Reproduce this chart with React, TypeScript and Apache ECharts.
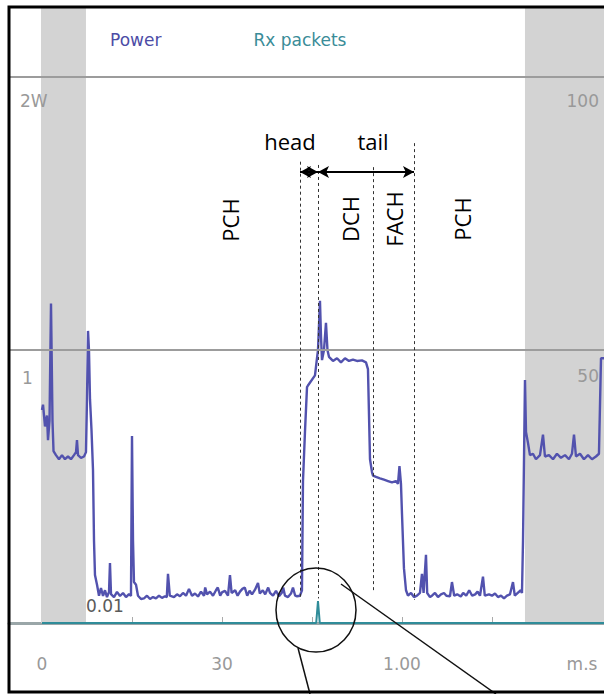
import React, { useEffect, useRef } from "react";
import * as echarts from "echarts";

// ---- axis / tick data ----
const timeTickValues = [15, 30, 45, 60, 75, 90];
const timeLabelValues = [0, 30, 60, 90];
const timeLabelTexts = ["0", "30", "1.00", "m.s"];
const timeMin = -5.5;
const timeMax = 93.67;
const powerMax = 2.253;
const rxMax = 112.6;
const powerGridValues = [1, 2];

// ---- series: Power (seconds, watts) ----
const powerTime = [
  0, 0.17, 0.5, 0.83, 1.0, 1.25, 1.5, 1.75, 1.92, 2.33, 2.83, 3.33, 3.83, 4.33, 4.83, 5.33, 5.67, 5.83, 6.0, 6.5, 7.0, 7.33,
  7.5, 7.67, 7.83, 8.0, 8.25, 8.5, 8.67, 8.83, 9.17, 9.5, 9.83, 10.17, 10.5, 10.83, 11.17, 11.33, 11.5, 12.0, 12.5, 13.0,
  13.5, 14.0, 14.5, 14.83, 15.0, 15.17, 15.33, 15.67, 16.0, 16.5,
  17.0, 17.5, 18.0, 18.5, 19.0, 19.5, 20.0, 20.5, 20.8, 21.0, 21.3, 22.0, 22.5, 23.0, 23.5, 24.0, 24.5, 25.0, 25.5, 26.0,
  26.5, 27.0, 27.2, 27.5, 28.0, 28.5, 29.0, 29.3, 29.7, 30.0, 30.5, 31.0, 31.33, 31.6, 32.2, 32.6, 33.0, 33.4, 33.8, 34.2,
  34.6, 35.0, 35.5, 36.0, 36.3, 36.8, 37.2, 37.7, 38.0, 38.5, 39.0, 39.5, 40.0, 40.2, 40.5, 41.0, 41.5, 41.83, 42.2, 42.5, 43.0,
  43.33, 43.5, 43.83, 44.17, 44.33, 45.5, 45.78, 46.0, 46.33, 46.5, 46.67, 47.0, 47.33, 47.58, 47.83, 48.5, 49.17, 49.83,
  50.5, 51.17, 51.83, 52.5, 53.33, 54.0, 54.33, 54.67, 55.0, 55.17, 55.67, 56.33, 57.0, 57.67, 58.33, 59.0, 59.33, 59.58,
  59.83, 60.0, 60.33, 60.67, 61.0, 61.5, 62.0, 62.5, 63.0, 63.33, 63.6, 64.0, 64.2, 64.67,
  65.0, 65.5, 66.0, 66.5, 67.0, 67.4, 68.0, 68.33, 68.7, 69.2, 69.8, 70.2, 70.7, 71.2, 71.7, 72.2, 72.6, 73.0, 73.5, 73.8,
  74.5, 75.0, 75.5, 76.0, 76.5, 77.0, 77.5, 78.0, 78.5, 78.8, 79.3, 79.8, 80.0, 80.17,
  80.5, 80.67, 81.0, 81.33, 81.83, 82.33, 83.0, 83.5, 83.83, 84.5, 85.17, 85.83, 86.5, 87.17, 87.83, 88.33, 88.67, 89.0,
  89.67, 90.33, 91.0, 91.67, 92.33, 92.83, 93.17, 93.67,
];
const powerWatts = [
  0.78, 0.8, 0.72, 0.76, 0.67, 0.74, 1.17, 0.74, 0.63, 0.615, 0.6, 0.615, 0.6, 0.61, 0.6, 0.615, 0.626, 0.67, 0.615, 0.605, 0.61, 0.626,
  0.82, 1.07, 1.0, 0.82, 0.707, 0.56, 0.3, 0.176, 0.14, 0.1, 0.128, 0.099, 0.12, 0.095, 0.114, 0.22, 0.106, 0.095, 0.114, 0.099,
  0.11, 0.095, 0.106, 0.099, 0.685, 0.3, 0.15, 0.14, 0.1, 0.088,
  0.09, 0.1, 0.088, 0.095, 0.09, 0.1, 0.092, 0.098, 0.095, 0.18, 0.1, 0.095, 0.105, 0.098, 0.11, 0.1, 0.125, 0.1, 0.108, 0.097,
  0.115, 0.1, 0.13, 0.105, 0.115, 0.1, 0.12, 0.13, 0.1, 0.112, 0.118, 0.1, 0.175, 0.11, 0.12, 0.1, 0.115, 0.125, 0.13, 0.1,
  0.118, 0.105, 0.122, 0.147, 0.108, 0.12, 0.105, 0.13, 0.11, 0.1, 0.118, 0.098, 0.112, 0.13, 0.1, 0.095, 0.108, 0.13, 0.1, 0.098, 0.1,
  0.12, 0.52, 0.7, 0.864, 0.87, 0.907, 0.96, 1.0, 1.18, 1.05, 0.963, 1.0, 1.1, 1.0, 0.975, 0.96, 0.97, 0.955,
  0.97, 0.96, 0.965, 0.96, 0.962, 0.955, 0.93, 0.6, 0.553, 0.54, 0.535, 0.53, 0.525, 0.52, 0.515, 0.52, 0.51, 0.575,
  0.51, 0.4, 0.2, 0.12, 0.1, 0.11, 0.095, 0.1, 0.11, 0.18, 0.11, 0.25, 0.11, 0.095,
  0.1, 0.11, 0.095, 0.105, 0.11, 0.1, 0.098, 0.15, 0.1, 0.105, 0.097, 0.11, 0.1, 0.12, 0.1, 0.105, 0.115, 0.1, 0.17, 0.1,
  0.105, 0.1, 0.108, 0.095, 0.1, 0.09, 0.1, 0.105, 0.15, 0.1, 0.11, 0.12, 0.11, 0.3,
  0.89, 0.7, 0.66, 0.615, 0.62, 0.6, 0.615, 0.69, 0.61, 0.615, 0.6, 0.62, 0.605, 0.615, 0.6, 0.62, 0.69, 0.61,
  0.62, 0.6, 0.615, 0.6, 0.61, 0.62, 0.97, 0.97,
];

// ---- series: Rx packets ----
const rxTime = [0, 45.7, 45.85, 46.0, 46.15, 46.3, 93.67];
const rxPackets = [0, 0, 2, 4, 2, 0, 0];

// ---- annotations ----
const shadedRanges = [
  [-0.17, 7.33],
  [80.5, 93.67],
];
const phaseLines = [
  { t: 43.0, top: 1.69, bottom: 0.085 },
  { t: 46.0, top: 1.678, bottom: 0.09 },
  { t: 55.17, top: 1.67, bottom: 0.11 },
  { t: 62.0, top: 1.758, bottom: 0.085 },
];
const arrowLevel = 1.652;
const headRange = [43.0, 46.0];
const tailRange = [46.0, 62.0];

const POWER_COLOR = "#5252ae";
const RX_COLOR = "#2f8c99";
const LABEL_FONT = "DejaVu Sans";
const NOTE_FONT = "Open Sans";

export default function App() {
  const ref = useRef<HTMLDivElement>(null);

  useEffect(() => {
    if (!ref.current) return;
    const chart = echarts.init(ref.current, undefined, { renderer: "svg" });

    const powerData = powerTime.map((t, i) => [t, powerWatts[i]]);
    const rxData = rxTime.map((t, i) => [t, rxPackets[i]]);

    const gridLineStyle = { color: "#9c9c9c", width: 2, type: "solid" };
    const markLineData: any[] = [
      ...powerGridValues.map((v) => ({ yAxis: v, lineStyle: gridLineStyle })),
      ...phaseLines.map((p) => [
        { coord: [p.t, p.top], lineStyle: { color: "#333", width: 1, type: [3, 3] } },
        { coord: [p.t, p.bottom] },
      ]),
      [
        { coord: [headRange[0], arrowLevel], symbol: "arrow", symbolSize: [9, 11], lineStyle: { color: "#000", width: 2, type: "solid" } },
        { coord: [headRange[1], arrowLevel], symbol: "arrow", symbolSize: [9, 11] },
      ],
      [
        { coord: [tailRange[0], arrowLevel], symbol: "arrow", symbolSize: [9, 11], lineStyle: { color: "#000", width: 2, type: "solid" } },
        { coord: [tailRange[1], arrowLevel], symbol: "arrow", symbolSize: [9, 11] },
      ],
    ];

    const text = (t: string, x: number, y: number, opts: any = {}) => ({
      type: "text",
      x,
      y,
      rotation: opts.rotation || 0,
      silent: true,
      z: 50,
      style: {
        text: t,
        fill: opts.fill || "#999",
        fontSize: opts.fontSize || 17,
        fontFamily: opts.fontFamily || LABEL_FONT,
        align: opts.align || "left",
        verticalAlign: "middle",
      },
    });

    chart.setOption({
      animation: false,
      backgroundColor: "#fff",
      textStyle: { fontFamily: LABEL_FONT },
      legend: {
        left: 100,
        top: 26,
        icon: "circle",
        itemWidth: 0,
        itemHeight: 0,
        itemGap: 87,
        selectedMode: false,
        data: [
          { name: "Power", textStyle: { color: "#4c4ca6", fontSize: 17, fontFamily: LABEL_FONT } },
          { name: "Rx packets", textStyle: { color: "#3a8c98", fontSize: 17, fontFamily: LABEL_FONT } },
        ],
      },
      grid: { left: 9, right: 0, top: 8, bottom: 71 },
      xAxis: {
        type: "value",
        min: timeMin,
        max: timeMax,
        axisLine: { show: true, lineStyle: { color: "#9aa6a8", width: 3 } },
        axisTick: {
          show: true,
          inside: true,
          length: 6,
          customValues: timeTickValues,
          lineStyle: { color: "#aaa", width: 1 },
        },
        axisLabel: {
          customValues: timeLabelValues,
          formatter: (v: number) => {
            const i = timeLabelValues.indexOf(Math.round(v));
            return i >= 0 ? timeLabelTexts[i] : "";
          },
          color: "#999",
          fontSize: 17,
          fontFamily: LABEL_FONT,
          margin: 32,
        },
        splitLine: { show: false },
      },
      yAxis: [
        {
          type: "value",
          min: 0,
          max: powerMax,
          show: true,
          axisLine: { show: false },
          axisTick: { show: false },
          axisLabel: { show: false },
          splitLine: { show: false },
        },
        {
          type: "value",
          min: 0,
          max: rxMax,
          show: true,
          position: "right",
          axisLine: { show: false },
          axisTick: { show: false },
          axisLabel: { show: false },
          splitLine: { show: false },
        },
      ],
      series: [
        {
          name: "Power",
          type: "line",
          data: powerData,
          showSymbol: false,
          symbol: "none",
          color: POWER_COLOR,
          lineStyle: { color: POWER_COLOR, width: 2.4 },
          silent: true,
          z: 3,
          markArea: {
            silent: true,
            itemStyle: { color: "#d3d3d3" },
            data: shadedRanges.map((r) => [{ xAxis: r[0] }, { xAxis: r[1] }]),
          },
          markLine: {
            silent: true,
            symbol: "none",
            label: { show: false },
            data: markLineData,
          },
        },
        {
          name: "Rx packets",
          type: "line",
          yAxisIndex: 1,
          data: rxData,
          showSymbol: false,
          symbol: "none",
          color: RX_COLOR,
          lineStyle: { color: RX_COLOR, width: 2 },
          silent: true,
          z: 4,
        },
      ],
      graphic: [
        text("2W", 20, 101),
        text("1", 22, 378),
        text("0.01", 86, 606, { fill: "#5a5a5a" }),
        text("100", 599, 101, { align: "right" }),
        text("50", 599, 376, { align: "right" }),
        text("head", 290, 141, { fill: "#000", fontSize: 22, fontFamily: NOTE_FONT, align: "center" }),
        text("tail", 373, 141, { fill: "#000", fontSize: 22, fontFamily: NOTE_FONT, align: "center" }),
        text("PCH", 230, 220, { fill: "#000", fontSize: 22, fontFamily: NOTE_FONT, align: "center", rotation: Math.PI / 2 }),
        text("DCH", 350, 219, { fill: "#000", fontSize: 22, fontFamily: NOTE_FONT, align: "center", rotation: Math.PI / 2 }),
        text("FACH", 394, 219, { fill: "#000", fontSize: 22, fontFamily: NOTE_FONT, align: "center", rotation: Math.PI / 2 }),
        text("PCH", 462, 219, { fill: "#000", fontSize: 22, fontFamily: NOTE_FONT, align: "center", rotation: Math.PI / 2 }),
        {
          type: "ellipse",
          silent: true,
          z: 60,
          shape: { cx: 316, cy: 610, rx: 40, ry: 42 },
          style: { fill: "none", stroke: "#111", lineWidth: 1.5 },
        },
        {
          type: "line",
          silent: true,
          z: 60,
          shape: { x1: 298, y1: 648, x2: 310, y2: 694 },
          style: { stroke: "#111", lineWidth: 1.5 },
        },
        {
          type: "line",
          silent: true,
          z: 60,
          shape: { x1: 341, y1: 584, x2: 496, y2: 694 },
          style: { stroke: "#111", lineWidth: 1.5 },
        },
        {
          type: "rect",
          silent: true,
          z: 100,
          shape: { x: 9, y: 7, width: 640, height: 685 },
          style: { fill: "none", stroke: "#000", lineWidth: 3 },
        },
      ],
    });

    return () => chart.dispose();
  }, []);

  return (
    <div
      ref={ref}
      style={{ position: "fixed", left: 0, top: 0, width: 604, height: 694 }}
    />
  );
}
